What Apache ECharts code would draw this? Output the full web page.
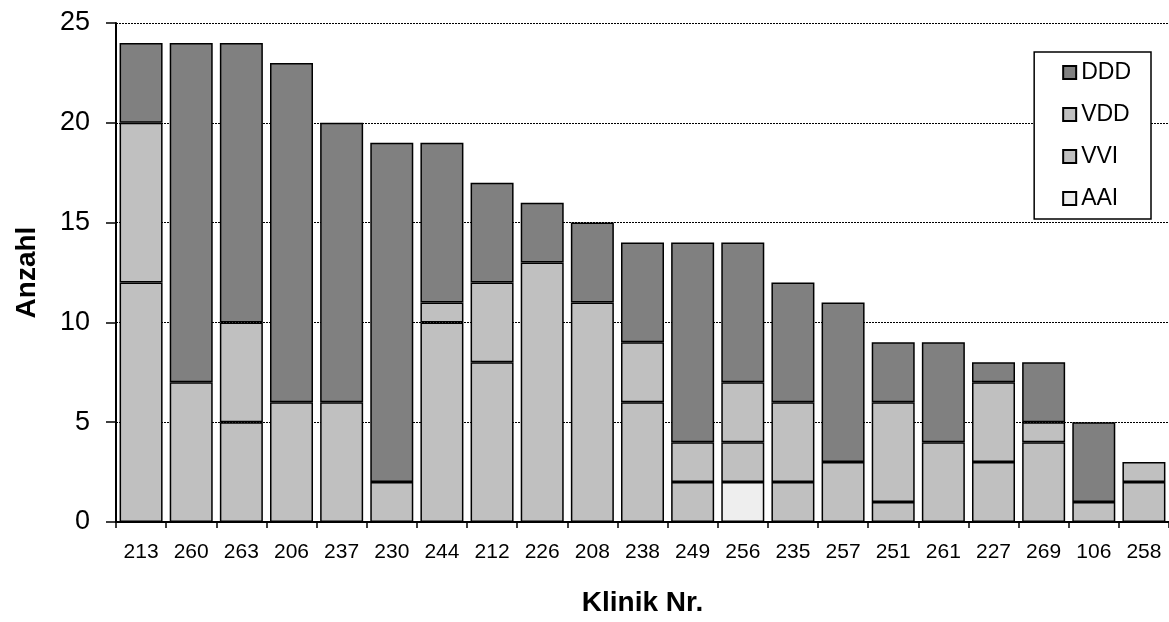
<!DOCTYPE html>
<html>
<head>
<meta charset="utf-8">
<script src="https://cdn.jsdelivr.net/npm/echarts@6/dist/echarts.min.js"></script>
<style>html,body{margin:0;padding:0;background:#fff;width:100%;height:100%;overflow:hidden;}#c{width:100vw;height:100vh;}</style>
</head>
<body>
<div id="c"></div>
<script>
const categories = ['213','260','263','206','237','230','244','212','226','208','238','249','256','235','257','251','261','227','269','106','258'];
const aai = [0,0,0,0,0,0,0,0,0,0,0,0,2,0,0,0,0,0,0,0,0];
const vvi = [12,7,5,6,6,2,10,8,13,11,6,2,2,2,3,1,4,3,4,1,2];
const vdd = [8,0,5,0,0,0,1,4,0,0,3,2,3,4,0,5,0,4,1,0,1];
const ddd = [4,17,14,17,14,17,8,5,3,4,5,10,7,6,8,3,5,1,3,4,0];
const yTicks = [0,5,10,15,20,25];

const font = 'Liberation Sans, Arial, sans-serif';
const el = document.getElementById('c');
const chart = echarts.init(el, null, {renderer:'canvas'});
const W = el.clientWidth, H = el.clientHeight;
const sx = W / 1169, sy = H / 622;
function ser(name, data, color){
  return {name, type:'bar', stack:'a', data: data.map(v => v === 0 ? '-' : v), barWidth:43*sx,
    itemStyle:{color, borderColor:'#000', borderWidth:1.5},
    emphasis:{disabled:true}};
}
chart.setOption({
  animation:false,
  grid:{left:116*sx, top:23*sy, width:1063*sx, height:503*sy, containLabel:false},
  legend:{
    orient:'vertical', right:18*sx, top:52*sy,
    data:['DDD','VDD','VVI','AAI'],
    backgroundColor:'#fff', borderColor:'#000', borderWidth:1.5,
    padding:[9*sy,20,9*sy,28], itemGap:19*sy, itemWidth:13, itemHeight:13,
    icon:'rect',
    textStyle:{fontFamily:font, fontSize:23, color:'#000'},
    selectedMode:false
  },
  xAxis:{
    type:'category', data:categories,
    name:'Klinik Nr.', nameLocation:'middle', nameGap:67*sy,
    nameTextStyle:{fontFamily:font, fontSize:28, fontWeight:'bold', color:'#000'},
    axisLine:{lineStyle:{color:'#000', width:2}},
    axisTick:{show:true, interval:0, length:6, lineStyle:{color:'#000', width:1.5}},
    axisLabel:{interval:0, fontFamily:font, fontSize:21, color:'#000', margin:20*sy}
  },
  yAxis:{
    type:'value', min:yTicks[0], max:yTicks[yTicks.length-1], interval:5,
    name:'Anzahl', nameLocation:'middle', nameGap:75*sx,
    nameTextStyle:{fontFamily:font, fontSize:28, fontWeight:'bold', color:'#000'},
    axisLine:{show:true, lineStyle:{color:'#000', width:2}},
    axisTick:{show:true, length:10, lineStyle:{color:'#000', width:1.5}},
    axisLabel:{fontFamily:font, fontSize:27, color:'#000', margin:26*sx},
    splitLine:{show:true, lineStyle:{color:'#000', width:1, type:[2,1]}}
  },
  series:[
    ser('AAI', aai, '#eeeeee'),
    ser('VVI', vvi, '#c0c0c0'),
    ser('VDD', vdd, '#c0c0c0'),
    ser('DDD', ddd, '#808080')
  ]
});
</script>
</body>
</html>
